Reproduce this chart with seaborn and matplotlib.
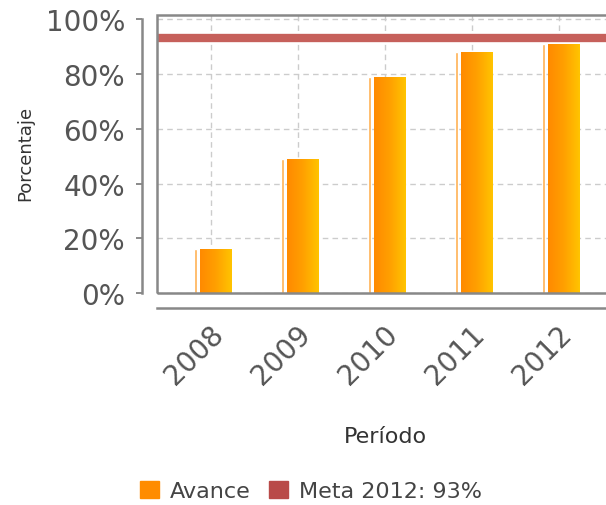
import numpy as np
import pandas as pd
import seaborn as sns
import matplotlib.pyplot as plt
from matplotlib.patches import Patch, Rectangle
from matplotlib.colors import LinearSegmentedColormap
from matplotlib.transforms import ScaledTranslation

periodos = ["2008", "2009", "2010", "2011", "2012"]
avance = [16, 49, 79, 88, 91]
meta = 93
meta_label = "Meta 2012: 93%"

sns.set_style("white")
plt.rcParams['font.family'] = ['DejaVu Sans']

fig = plt.figure(figsize=(6.06, 5.06), dpi=100)
ax = fig.add_axes([0.259, 0.419, 0.741, 0.549])

df = pd.DataFrame({"periodo": periodos, "avance": avance})
sns.barplot(data=df, x="periodo", y="avance", color="#FF9400", width=0.36,
            saturation=1, ax=ax, zorder=3)

# degradado naranja -> amarillo en cada barra
cmap = LinearSegmentedColormap.from_list("grad", ["#FF8A00", "#FFA000", "#FFC400"])
grad = np.linspace(0, 1, 64).reshape(1, -1)
for p in list(ax.patches):
    x0, y0 = p.get_x(), p.get_y()
    w, h = p.get_width(), p.get_height()
    p.set_x(x0 + 0.05)
    p.set_facecolor("none")
    p.set_edgecolor("none")
    im = ax.imshow(grad, cmap=cmap, aspect="auto",
                   extent=[x0 + 0.05, x0 + 0.05 + w, y0, y0 + h], zorder=3)
    im.set_clip_path(p)

# franja clara a la izquierda
pos = np.arange(len(periodos))
ax.bar(pos - 0.18, avance, width=0.035, color="#FFB050", zorder=3)

ax.axhline(meta, color="#C6605B", lw=6, zorder=4)

# ejes desplazados (antes de tocar las etiquetas, set_position reinicia los ticks)
ax.spines["right"].set_visible(False)
ax.spines["top"].set_visible(False)
ax.spines["left"].set_position(("outward", 11))
ax.spines["bottom"].set_position(("outward", 11))
for s in ("left", "bottom"):
    ax.spines[s].set_color("#888888")
    ax.spines[s].set_linewidth(1.8)

ax.set_xlim(-0.62, 4.54)
ax.set_ylim(0, 101.5)
ax.spines["left"].set_bounds(0, 100)
yt = [0, 20, 40, 60, 80, 100]
ax.set_yticks(yt)
ax.set_yticklabels([f"{v}%" for v in yt], fontsize=20, color="#555555")
ax.set_xticks(pos)
ax.set_xticklabels(periodos, rotation=45, fontsize=20, color="#555555")
ax.tick_params(axis="y", length=4, width=1.2, color="#777777", direction="out", pad=8, left=True)
ax.tick_params(axis="x", length=0, pad=8)
for lab in ax.get_xticklabels():
    lab.set_transform(lab.get_transform() + ScaledTranslation(-0.17, 0, fig.dpi_scale_trans))

ax.grid(True, linestyle=(0, (4, 3)), color="#cccccc", lw=1, zorder=0)
ax.set_axisbelow(True)

# marco del area de trazado
ax.add_patch(Rectangle((0, 0), 1.2, 1, transform=ax.transAxes, fill=False,
                       edgecolor="#888888", lw=1.8, clip_on=False, zorder=5))

ax.set_xlabel("Período", fontsize=16, color="#333333", va="center")
ax.xaxis.set_label_coords(385 / 606, 1 - 437 / 506, transform=fig.transFigure)
ax.set_ylabel("Porcentaje", fontsize=13, color="#333333", va="center")
ax.yaxis.set_label_coords(25 / 606, 1 - 153 / 506, transform=fig.transFigure)

handles = [Patch(color="#FF8C00", label="Avance"), Patch(color="#B94A48", label=meta_label)]
fig.legend(handles=handles, loc="center", bbox_to_anchor=(0.513, 1 - 492 / 506), ncol=2,
           frameon=False, fontsize=16, handlelength=0.85, handleheight=0.85, handletextpad=0.5,
           columnspacing=0.8, labelcolor="#444444")

fig.savefig("out.png", dpi=100)
